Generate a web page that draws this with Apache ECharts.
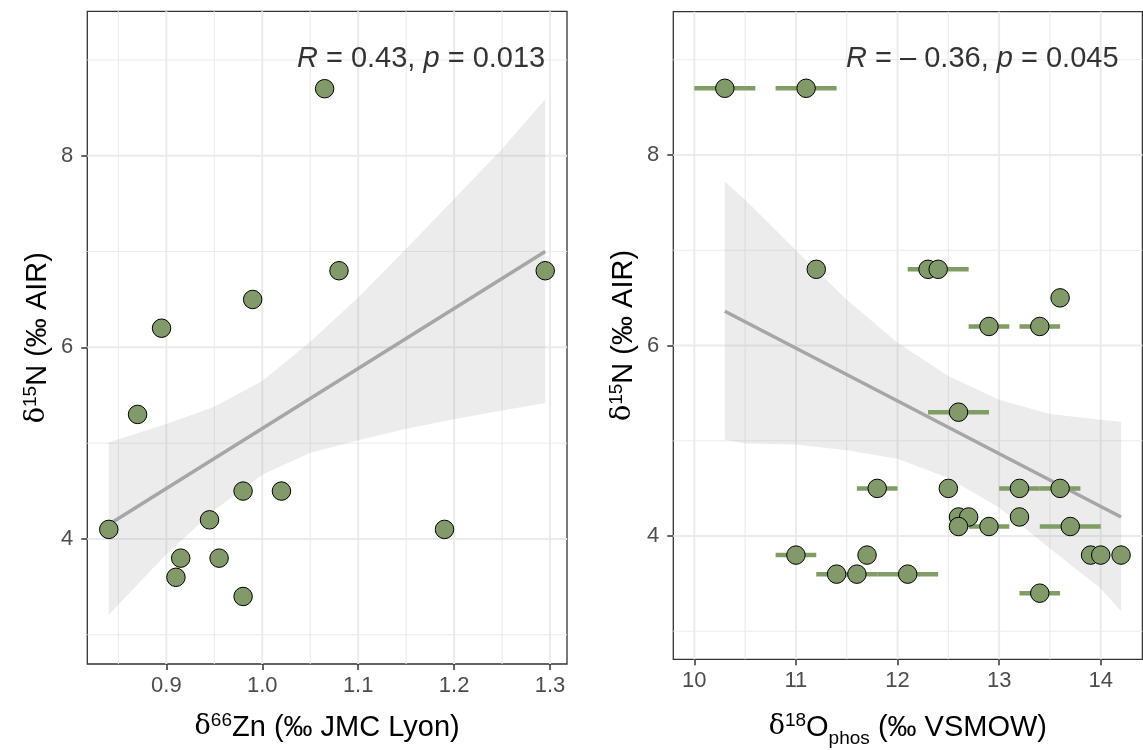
<!DOCTYPE html>
<html>
<head>
<meta charset="utf-8">
<title>d15N vs d66Zn / d18O phos</title>
<script src="https://cdn.jsdelivr.net/npm/echarts@6/dist/echarts.min.js"></script>
<style>
  html, body { margin: 0; padding: 0; background: #fff; }
  #chart { width: 1143px; height: 750px; }
</style>
</head>
<body>
<div id="chart"></div>
<script>
// ---- left panel : d66Zn vs d15N ----
const zincX = [0.84, 0.87, 0.895, 0.945, 0.915, 0.91, 0.955, 0.98, 0.98, 1.02, 0.99, 1.065, 1.08, 1.19, 1.295]
const zincN = [4.1, 5.3, 6.2, 4.2, 3.8, 3.6, 3.8, 3.4, 4.5, 4.5, 6.5, 8.7, 6.8, 4.1, 6.8]
// fitted line + confidence band
const zincFitX = [0.84, 1.295]
const zincFitY = [4.15, 7.0]
const zincBandX = [0.84, 0.9, 0.95, 1.0, 1.05, 1.1, 1.15, 1.2, 1.25, 1.295]
const zincBandHi = [5.01, 5.2, 5.38, 5.65, 6.06, 6.52, 7.03, 7.55, 8.07, 8.59]
const zincBandLo = [3.21, 3.84, 4.3, 4.67, 4.9, 5.03, 5.15, 5.25, 5.34, 5.42]
const zincTicks = [0.9, 1.0, 1.1, 1.2, 1.3]
const zincMinor = [0.85, 0.95, 1.05, 1.15, 1.25]

// ---- right panel : d18O phos vs d15N (with x error) ----
const phosX = [10.3, 11.1, 11.2, 12.3, 12.4, 13.6, 12.9, 13.4, 12.6, 11.8, 12.5, 13.2, 13.6, 12.6, 12.7, 12.6, 12.9, 13.2, 13.7, 11.0, 11.7, 13.9, 14.0, 14.2, 11.4, 11.6, 12.1, 13.4]
const phosN = [8.7, 8.7, 6.8, 6.8, 6.8, 6.5, 6.2, 6.2, 5.3, 4.5, 4.5, 4.5, 4.5, 4.2, 4.2, 4.1, 4.1, 4.2, 4.1, 3.8, 3.8, 3.8, 3.8, 3.8, 3.6, 3.6, 3.6, 3.4]
const phosErr = [0.3, 0.3, 0, 0, 0.3, 0, 0.2, 0.2, 0.3, 0.2, 0, 0.2, 0.2, 0, 0, 0, 0.2, 0, 0.3, 0.2, 0, 0, 0, 0, 0.2, 0.2, 0.3, 0.2]
const phosFitX = [10.3, 14.2]
const phosFitY = [6.36, 4.2]
const phosBandX = [10.3, 10.5, 11.0, 11.5, 12.0, 12.5, 13.0, 13.5, 14.0, 14.2]
const phosBandHi = [7.72, 7.53, 7.0, 6.48, 6.03, 5.68, 5.43, 5.28, 5.22, 5.2]
const phosBandLo = [5.01, 4.97, 4.96, 4.9, 4.81, 4.61, 4.3, 3.87, 3.45, 3.21]
const phosTicks = [10, 11, 12, 13, 14]
const phosMinor = [10.5, 11.5, 12.5, 13.5]

// shared y
const nTicks = [4, 6, 8]
const nMinor = [3, 5, 7, 9]

const corrLeft = { x: 1.295, y: 9.01, text: '{i|R} = 0.43, {i|p} = 0.013' }
const corrRight = { x: 14.175, y: 9.01, text: '{i|R} = – 0.36, {i|p} = 0.045' }

// axis ranges (panel extents)
const leftX = [0.8176, 1.3177]
const rightX = [9.793, 14.41]
const leftY = [2.695, 9.508]
const rightY = [2.706, 9.504]

const FONT = "'Liberation Sans', Arial, sans-serif"
const pointFill = '#829a69'
const errColor = '#7f9d65'

const nameRich = {
  d: { fontFamily: "'DejaVu Serif', serif", fontSize: 27, lineHeight: 29, padding: [5, 0, 5, 0], verticalAlign: 'top', color: '#000' },
  t: { fontFamily: FONT, fontSize: 29, lineHeight: 29, padding: [5, 0, 5, 0], verticalAlign: 'top', color: '#000' },
  s: { fontFamily: FONT, fontSize: 19, lineHeight: 19, padding: [3, 0, 0, 0], verticalAlign: 'top', color: '#000' },
  b: { fontFamily: FONT, fontSize: 19, lineHeight: 19, padding: [21, 0, 0, 0], verticalAlign: 'top', color: '#000' }
}

function gridItems(xs, xm, ys, ym) {
  const out = []
  xm.forEach(v => out.push([v, 0, 0]))
  xs.forEach(v => out.push([v, 0, 1]))
  ym.forEach(v => out.push([v, 1, 0]))
  ys.forEach(v => out.push([v, 1, 1]))
  return out
}

function gridRender(xr, yr) {
  return function (params, api) {
    const v = api.value(0)
    const horiz = api.value(1) === 1
    const major = api.value(2) === 1
    const a = horiz ? api.coord([xr[0], v]) : api.coord([v, yr[0]])
    const b = horiz ? api.coord([xr[1], v]) : api.coord([v, yr[1]])
    return {
      type: 'line',
      shape: { x1: a[0], y1: a[1], x2: b[0], y2: b[1] },
      style: { stroke: '#EBEBEB', lineWidth: major ? 2 : 1.1 }
    }
  }
}

function bandRender(bx, hi, lo) {
  return function (params, api) {
    const pts = []
    for (let i = 0; i < bx.length; i++) pts.push(api.coord([bx[i], hi[i]]))
    for (let i = bx.length - 1; i >= 0; i--) pts.push(api.coord([bx[i], lo[i]]))
    return { type: 'polygon', shape: { points: pts }, style: { fill: 'rgba(153,153,153,0.19)' } }
  }
}

function errRender(params, api) {
  const x = api.value(0), y = api.value(1), e = api.value(2)
  if (!e) return null
  const a = api.coord([x - e, y])
  const b = api.coord([x + e, y])
  return {
    type: 'line',
    shape: { x1: a[0], y1: a[1], x2: b[0], y2: b[1] },
    style: { stroke: errColor, lineWidth: 4.5 }
  }
}

function makeX(idx, range, ticks, fmt, name, gap) {
  return {
    type: 'value', gridIndex: idx, min: range[0], max: range[1],
    axisLine: { show: false },
    splitLine: { show: false },
    axisTick: { show: true, length: 6, customValues: ticks, lineStyle: { color: '#333', width: 1.5 } },
    axisLabel: { customValues: ticks, formatter: fmt, color: '#4D4D4D', fontSize: 22, fontFamily: FONT, margin: 11 },
    name: name, nameLocation: 'middle', nameGap: gap,
    nameTextStyle: { rich: nameRich }
  }
}

function makeY(idx, range) {
  return {
    type: 'value', gridIndex: idx, min: range[0], max: range[1],
    axisLine: { show: false },
    splitLine: { show: false },
    axisTick: { show: true, length: 6, customValues: nTicks, lineStyle: { color: '#333', width: 1.5 } },
    axisLabel: { customValues: nTicks, color: '#4D4D4D', fontSize: 22, fontFamily: FONT, margin: 14 },
    name: '{d|δ}{s|15}{t|N (‰ AIR)}', nameLocation: 'middle', nameRotate: 90, nameGap: 30,
    nameTextStyle: { rich: nameRich }
  }
}

function pairs(xs, ys) {
  return xs.map((x, i) => [x, ys[i]])
}

const chart = echarts.init(document.getElementById('chart'))

const option = {
  animation: false,
  backgroundColor: '#fff',
  grid: [
    { left: 87.3, top: 11.3, width: 479.7, height: 652.7, containLabel: false, outerBoundsMode: 'none',
      show: true, borderColor: '#333', borderWidth: 1.3, backgroundColor: '#fff' },
    { left: 673.3, top: 11.7, width: 469.1, height: 647.6, containLabel: false, outerBoundsMode: 'none',
      show: true, borderColor: '#333', borderWidth: 1.3, backgroundColor: '#fff' }
  ],
  xAxis: [
    makeX(0, leftX, zincTicks, v => v.toFixed(1), '{d|δ}{s|66}{t|Zn (‰ JMC Lyon)}', 44),
    makeX(1, rightX, phosTicks, v => String(v), '{d|δ}{s|18}{t|O}{b|phos}{t| (‰ VSMOW)}', 49)
  ],
  yAxis: [makeY(0, leftY), makeY(1, rightY)],
  series: [
    // grid lines
    { type: 'custom', xAxisIndex: 0, yAxisIndex: 0, z: 1, silent: true,
      data: gridItems(zincTicks, zincMinor, nTicks, nMinor), renderItem: gridRender(leftX, leftY) },
    { type: 'custom', xAxisIndex: 1, yAxisIndex: 1, z: 1, silent: true,
      data: gridItems(phosTicks, phosMinor, nTicks, nMinor), renderItem: gridRender(rightX, rightY) },
    // confidence bands
    { type: 'custom', xAxisIndex: 0, yAxisIndex: 0, z: 2, silent: true,
      data: [[zincBandX[0], zincBandLo[0]]], renderItem: bandRender(zincBandX, zincBandHi, zincBandLo) },
    { type: 'custom', xAxisIndex: 1, yAxisIndex: 1, z: 2, silent: true,
      data: [[phosBandX[0], phosBandLo[0]]], renderItem: bandRender(phosBandX, phosBandHi, phosBandLo) },
    // fit lines
    { type: 'line', xAxisIndex: 0, yAxisIndex: 0, z: 3, showSymbol: false, silent: true,
      data: pairs(zincFitX, zincFitY), lineStyle: { color: '#a6a6a6', width: 3.5 } },
    { type: 'line', xAxisIndex: 1, yAxisIndex: 1, z: 3, showSymbol: false, silent: true,
      data: pairs(phosFitX, phosFitY), lineStyle: { color: '#a6a6a6', width: 3.5 } },
    // horizontal error bars
    { type: 'custom', xAxisIndex: 1, yAxisIndex: 1, z: 4, silent: true,
      data: phosX.map((x, i) => [x, phosN[i], phosErr[i]]), renderItem: errRender },
    // points
    { type: 'scatter', xAxisIndex: 0, yAxisIndex: 0, z: 5, symbolSize: 18.5,
      data: pairs(zincX, zincN), itemStyle: { color: pointFill, borderColor: '#000', borderWidth: 1, opacity: 1 } },
    { type: 'scatter', xAxisIndex: 1, yAxisIndex: 1, z: 5, symbolSize: 18.5,
      data: pairs(phosX, phosN), itemStyle: { color: pointFill, borderColor: '#000', borderWidth: 1, opacity: 1 } },
    // correlation labels
    { type: 'scatter', xAxisIndex: 0, yAxisIndex: 0, z: 6, symbolSize: 0, silent: true,
      data: [[corrLeft.x, corrLeft.y]],
      label: { show: true, position: [0, 0], align: 'right', verticalAlign: 'middle', formatter: corrLeft.text,
        fontFamily: FONT, fontSize: 29, color: '#000',
        rich: { i: { fontFamily: FONT, fontSize: 29, fontStyle: 'italic', color: '#000' } } } },
    { type: 'scatter', xAxisIndex: 1, yAxisIndex: 1, z: 6, symbolSize: 0, silent: true,
      data: [[corrRight.x, corrRight.y]],
      label: { show: true, position: [0, 0], align: 'right', verticalAlign: 'middle', formatter: corrRight.text,
        fontFamily: FONT, fontSize: 29, color: '#000',
        rich: { i: { fontFamily: FONT, fontSize: 29, fontStyle: 'italic', color: '#000' } } } }
  ]
}

chart.setOption(option)
</script>
</body>
</html>
